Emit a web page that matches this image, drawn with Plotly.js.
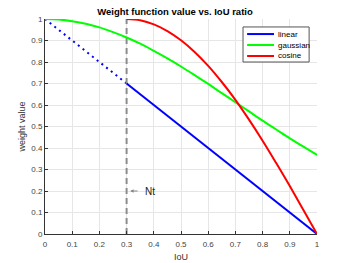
<!DOCTYPE html>
<html><head><meta charset="utf-8">
<script src="https://cdn.plot.ly/plotly-3.0.1.min.js"></script>
<style>html,body{margin:0;padding:0;background:#fff}#c{width:350px;height:263px}</style>
</head><body><div id="c"></div>
<script>
const tickVals = [0,0.1,0.2,0.3,0.4,0.5,0.6,0.7,0.8,0.9,1];
const tickText = ['0','0.1','0.2','0.3','0.4','0.5','0.6','0.7','0.8','0.9','1'];
const gaussX = [0,0.05,0.1,0.15,0.2,0.25,0.3,0.35,0.4,0.45,0.5,0.55,0.6,0.65,0.7,0.75,0.8,0.85,0.9,0.95,1];
const gaussY = [1,0.998,0.990,0.978,0.961,0.939,0.914,0.885,0.852,0.817,0.779,0.739,0.698,0.655,0.613,0.570,0.527,0.486,0.445,0.406,0.368];
const cosX = [0.3,0.35,0.4,0.45,0.5,0.55,0.6,0.65,0.7,0.75,0.8,0.85,0.9,0.95,1];
const cosY = [1,0.994,0.975,0.944,0.901,0.847,0.782,0.707,0.624,0.532,0.434,0.330,0.223,0.112,0];
const linX = [0.3,1];
const linY = [0.7,0];
const linDotX = [0,0.3];
const linDotY = [1,0.7];
const ntX = [0.3,0.3];
const ntY = [0,1];
const seriesNames = ['linear','gaussian','cosine'];
const seriesColors = ['#0000ff','#00ff00','#ff0000'];

const FONT = 'Liberation Sans, Arial, sans-serif';
const traces = [
  {x:linDotX,y:linDotY,mode:'lines',line:{color:'#0000ff',width:2,dash:'2px,4px'},showlegend:false,hoverinfo:'skip'},
  {x:ntX,y:ntY,mode:'lines',line:{color:'#8c8c8c',width:2,dash:'6px,4px'},showlegend:false,hoverinfo:'skip'},
  {x:linX,y:linY,mode:'lines',name:seriesNames[0],line:{color:seriesColors[0],width:2},showlegend:false},
  {x:gaussX,y:gaussY,mode:'lines',name:seriesNames[1],line:{color:seriesColors[1],width:2,shape:'spline'},showlegend:false},
  {x:cosX,y:cosY,mode:'lines',name:seriesNames[2],line:{color:seriesColors[2],width:2,shape:'spline'},showlegend:false}
];
const axisBase = {
  range:[0,1], tickvals:tickVals, ticktext:tickText, showgrid:true, gridcolor:'#e6e6e6', gridwidth:1,
  zeroline:false, showline:true, linecolor:'#333', linewidth:1, ticks:'inside', ticklen:3, tickcolor:'#333',
  tickfont:{family:FONT,size:8,color:'#444'}, mirror:false, fixedrange:true
};
// legend drawn as box + sample lines + labels
const shapes = [{type:'rect', xref:'x', yref:'y', x0:0.728, x1:0.971, y0:0.8, y1:0.963,
  line:{color:'#555',width:1}, fillcolor:'#fff', layer:'above'}];
const annotations = [
  {x:0.36, y:0.2, xref:'x', yref:'y', text:'Nt', showarrow:false, xanchor:'left',
    font:{family:FONT,size:10,color:'#222'}},
  {x:0.313, y:0.2, xref:'x', yref:'y', text:'', showarrow:true, ax:9, ay:0,
    arrowcolor:'#888', arrowwidth:1, arrowhead:2, arrowsize:0.7, standoff:0}
];
const legY = [0.93,0.879,0.828];
seriesNames.forEach((n,i)=>{
  shapes.push({type:'line', xref:'x', yref:'y', x0:0.743, x1:0.842, y0:legY[i], y1:legY[i], line:{color:seriesColors[i],width:2}, layer:'above'});
  annotations.push({x:0.849, y:legY[i], xref:'x', yref:'y', text:n, showarrow:false, xanchor:'left', yanchor:'middle',
    font:{family:FONT,size:8,color:'#000'}});
});
const layout = {
  width:350, height:263, margin:{l:45,r:33,t:19,b:29}, paper_bgcolor:'#fff', plot_bgcolor:'#fff',
  title:{text:'<b>Weight function value vs. IoU ratio</b>', font:{family:FONT,size:9.5,color:'#000'}, x:0.5, xanchor:'center', y:0.97, yanchor:'top'},
  xaxis:Object.assign({}, axisBase, {ticklabelstandoff:2, title:{text:'IoU', font:{family:FONT,size:9,color:'#333'}, standoff:6}}),
  yaxis:Object.assign({}, axisBase, {title:{text:'weight value', font:{family:FONT,size:9,color:'#333'}, standoff:4}}),
  shapes:shapes, annotations:annotations, showlegend:false
};
Plotly.newPlot('c', traces, layout, {displayModeBar:false, staticPlot:true});
</script></body></html>
